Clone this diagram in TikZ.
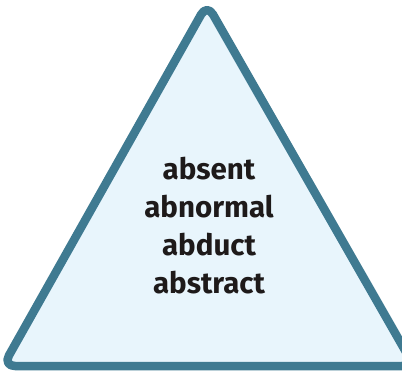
\documentclass[tikz,border=0pt]{standalone}
\usepackage{fontspec}
\setmainfont{Fira Sans}
\definecolor{edge}{HTML}{3F7A91}
\definecolor{fillc}{HTML}{E8F5FC}
\definecolor{ink}{HTML}{1E1A1A}
\tikzset{tri/.style={draw=edge,fill=fillc,line width=8.5pt,rounded corners=12pt,line join=round},
  words/.style={align=center,text=ink,font=\fontsize{29.5}{38}\selectfont\bfseries}}
\begin{document}
\begin{tikzpicture}[x=1pt,y=-1pt]
\useasboundingbox (0,0) rectangle (402,373);
\clip (0,0) rectangle (402,373);
\coordinate (apex) at (207,4);
\coordinate (bl) at (3,366);
\coordinate (br) at (414,366);
\draw[tri] (apex) -- (br) -- (bl) -- cycle;
\node[words] (txt) at (209,226) {absent\\abnormal\\abduct\\abstract};
\end{tikzpicture}
\end{document}
